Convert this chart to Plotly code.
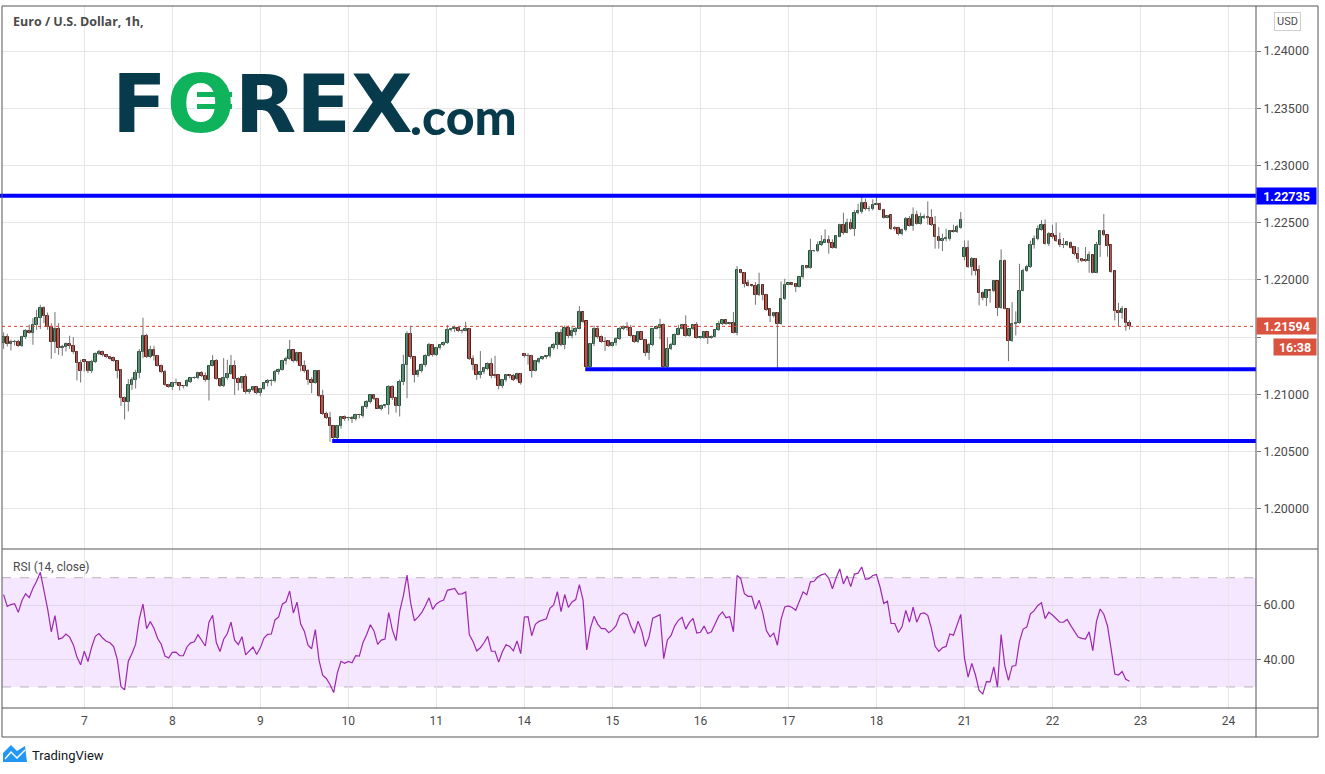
import numpy as np
import plotly.graph_objects as go

# ---------------- data (EUR/USD, 1h bars) ----------------
day_labels = ["7", "8", "9", "10", "11", "14", "15", "16", "17", "18", "21", "22", "23", "24"]
bars_per_day = 24
first_label_bar = 22   # hourly bars shown before the "7" label

open_ = [
    1.21448, 1.21500, 1.21442, 1.21453, 1.21456, 1.21418, 1.21500, 1.21552, 1.21535, 1.21608, 1.21666, 1.21754,
    1.21687, 1.21587, 1.21453, 1.21570, 1.21404, 1.21413, 1.21439, 1.21424, 1.21372, 1.21273, 1.21299, 1.21284,
    1.21200, 1.21284, 1.21351, 1.21372, 1.21343, 1.21328, 1.21316, 1.21290, 1.21214, 1.20966, 1.20929, 1.21080,
    1.21127, 1.21185, 1.21372, 1.21512, 1.21322, 1.21389, 1.21334, 1.21246, 1.21197, 1.21080, 1.21060, 1.21098,
    1.21098, 1.21074, 1.21069, 1.21112, 1.21141, 1.21141, 1.21185, 1.21162, 1.21121, 1.21246, 1.21293, 1.21133,
    1.21069, 1.21141, 1.21176, 1.21249, 1.21133, 1.21103, 1.21150, 1.21019, 1.21034, 1.21063, 1.21010, 1.21045,
    1.21098, 1.21118, 1.21118, 1.21197, 1.21214, 1.21293, 1.21308, 1.21383, 1.21287, 1.21360, 1.21249, 1.21208,
    1.21127, 1.21098, 1.21206, 1.20981, 1.20826, 1.20792, 1.20727, 1.20614, 1.20719, 1.20800, 1.20789, 1.20792,
    1.20780, 1.20818, 1.20812, 1.20888, 1.20934, 1.20993, 1.20958, 1.20876, 1.20894, 1.20905, 1.21063, 1.20964,
    1.20894, 1.21106, 1.21255, 1.21529, 1.21322, 1.21165, 1.21203, 1.21255, 1.21337, 1.21433, 1.21343, 1.21404,
    1.21430, 1.21448, 1.21561, 1.21570, 1.21579, 1.21555, 1.21555, 1.21570, 1.21308, 1.21255, 1.21173, 1.21194,
    1.21220, 1.21267, 1.21168, 1.21168, 1.21069, 1.21121, 1.21165, 1.21156, 1.21133, 1.21179, 1.21351, 1.21331,
    1.21337, 1.21208, 1.21284, 1.21313, 1.21322, 1.21331, 1.21401, 1.21430, 1.21535, 1.21433, 1.21579, 1.21506,
    1.21544, 1.21573, 1.21716, 1.21637, 1.21238, 1.21442, 1.21573, 1.21500, 1.21460, 1.21462, 1.21421, 1.21445,
    1.21480, 1.21567, 1.21590, 1.21584, 1.21509, 1.21456, 1.21544, 1.21479, 1.21360, 1.21427, 1.21573, 1.21579,
    1.21602, 1.21238, 1.21392, 1.21433, 1.21520, 1.21573, 1.21602, 1.21509, 1.21567, 1.21602, 1.21494, 1.21491,
    1.21544, 1.21491, 1.21500, 1.21558, 1.21614, 1.21646, 1.21614, 1.21620, 1.21538, 1.22083, 1.22063, 1.21969,
    1.21952, 1.21946, 1.21864, 1.21952, 1.21870, 1.21742, 1.21684, 1.21713, 1.21614, 1.21829, 1.21958, 1.21969,
    1.21964, 1.21940, 1.22022, 1.22121, 1.22104, 1.22249, 1.22255, 1.22308, 1.22325, 1.22345, 1.22325, 1.22278,
    1.22378, 1.22483, 1.22413, 1.22500, 1.22448, 1.22587, 1.22593, 1.22675, 1.22622, 1.22620, 1.22657, 1.22666,
    1.22614, 1.22544, 1.22564, 1.22453, 1.22453, 1.22401, 1.22433, 1.22529, 1.22471, 1.22570, 1.22491, 1.22544,
    1.22552, 1.22544, 1.22483, 1.22375, 1.22343, 1.22354, 1.22360, 1.22424, 1.22418, 1.22453, 1.22200, 1.22278,
    1.22112, 1.22185, 1.22083, 1.21888, 1.21841, 1.21908, 1.21905, 1.21987, 1.21754, 1.22168, 1.21748, 1.21465,
    1.21617, 1.21625, 1.21905, 1.22080, 1.22109, 1.22302, 1.22360, 1.22436, 1.22483, 1.22313, 1.22404, 1.22383,
    1.22345, 1.22308, 1.22308, 1.22325, 1.22284, 1.22229, 1.22179, 1.22171, 1.22162, 1.22214, 1.22063, 1.22302,
    1.22430, 1.22389, 1.22302, 1.22074, 1.21730, 1.21713, 1.21742, 1.21625,
]
high = [
    1.21541, 1.21529, 1.21477, 1.21477, 1.21477, 1.21512, 1.21570, 1.21608, 1.21666, 1.21739, 1.21783, 1.21768,
    1.21716, 1.21622, 1.21719, 1.21622, 1.21433, 1.21453, 1.21512, 1.21500, 1.21375, 1.21302, 1.21305, 1.21290,
    1.21302, 1.21366, 1.21389, 1.21383, 1.21348, 1.21337, 1.21331, 1.21296, 1.21220, 1.20981, 1.21133, 1.21150,
    1.21214, 1.21395, 1.21669, 1.21529, 1.21424, 1.21424, 1.21343, 1.21261, 1.21214, 1.21092, 1.21109, 1.21138,
    1.21103, 1.21080, 1.21133, 1.21150, 1.21156, 1.21197, 1.21203, 1.21191, 1.21252, 1.21343, 1.21308, 1.21138,
    1.21316, 1.21302, 1.21343, 1.21296, 1.21150, 1.21156, 1.21179, 1.21051, 1.21069, 1.21074, 1.21057, 1.21103,
    1.21133, 1.21133, 1.21214, 1.21226, 1.21302, 1.21330, 1.21477, 1.21390, 1.21372, 1.21366, 1.21296, 1.21220,
    1.21150, 1.21214, 1.21214, 1.21039, 1.20850, 1.20847, 1.20730, 1.20730, 1.20805, 1.20815, 1.20805, 1.20810,
    1.20830, 1.20830, 1.20900, 1.20950, 1.21000, 1.21000, 1.20970, 1.20910, 1.20915, 1.21080, 1.21080, 1.20970,
    1.21130, 1.21345, 1.21550, 1.21599, 1.21330, 1.21220, 1.21270, 1.21350, 1.21450, 1.21440, 1.21415, 1.21440,
    1.21460, 1.21605, 1.21580, 1.21600, 1.21590, 1.21570, 1.21634, 1.21580, 1.21340, 1.21265, 1.21378, 1.21240,
    1.21280, 1.21315, 1.21337, 1.21175, 1.21135, 1.21175, 1.21175, 1.21180, 1.21190, 1.21185, 1.21360, 1.21360,
    1.21345, 1.21300, 1.21320, 1.21335, 1.21340, 1.21420, 1.21450, 1.21550, 1.21570, 1.21600, 1.21600, 1.21600,
    1.21587, 1.21771, 1.21719, 1.21640, 1.21450, 1.21602, 1.21596, 1.21515, 1.21500, 1.21474, 1.21456, 1.21500,
    1.21587, 1.21602, 1.21631, 1.21607, 1.21520, 1.21550, 1.21550, 1.21485, 1.21450, 1.21579, 1.21602, 1.21660,
    1.21620, 1.21497, 1.21450, 1.21532, 1.21608, 1.21608, 1.21690, 1.21573, 1.21608, 1.21631, 1.21506, 1.21550,
    1.21550, 1.21515, 1.21567, 1.21643, 1.21655, 1.21655, 1.21630, 1.21719, 1.22121, 1.22092, 1.22069, 1.22001,
    1.21955, 1.21981, 1.22063, 1.21958, 1.21879, 1.21748, 1.21719, 1.21719, 1.21987, 1.22010, 1.21975, 1.21975,
    1.21970, 1.22028, 1.22127, 1.22127, 1.22360, 1.22261, 1.22337, 1.22389, 1.22442, 1.22389, 1.22354, 1.22389,
    1.22491, 1.22587, 1.22535, 1.22535, 1.22611, 1.22666, 1.22725, 1.22710, 1.22646, 1.22704, 1.22735, 1.22675,
    1.22622, 1.22567, 1.22570, 1.22470, 1.22465, 1.22448, 1.22550, 1.22558, 1.22634, 1.22605, 1.22587, 1.22573,
    1.22687, 1.22617, 1.22558, 1.22462, 1.22404, 1.22448, 1.22430, 1.22483, 1.22483, 1.22593, 1.22345, 1.22345,
    1.22200, 1.22191, 1.22127, 1.21900, 1.21917, 1.21917, 1.21993, 1.21990, 1.22267, 1.22179, 1.21754, 1.21806,
    1.21725, 1.22141, 1.22098, 1.22133, 1.22343, 1.22389, 1.22477, 1.22523, 1.22529, 1.22418, 1.22483, 1.22500,
    1.22413, 1.22366, 1.22337, 1.22337, 1.22296, 1.22287, 1.22191, 1.22287, 1.22249, 1.22220, 1.22331, 1.22436,
    1.22576, 1.22395, 1.22308, 1.22080, 1.21800, 1.21771, 1.21748, 1.21646,
]
low = [
    1.21398, 1.21418, 1.21383, 1.21427, 1.21413, 1.21413, 1.21483, 1.21529, 1.21433, 1.21564, 1.21570, 1.21622,
    1.21564, 1.21310, 1.21360, 1.21345, 1.21337, 1.21375, 1.21395, 1.21354, 1.21121, 1.21103, 1.21200, 1.21185,
    1.21185, 1.21273, 1.21343, 1.21331, 1.21316, 1.21302, 1.21284, 1.21138, 1.20899, 1.20780, 1.20850, 1.21039,
    1.21051, 1.21141, 1.21316, 1.21316, 1.21315, 1.21296, 1.21243, 1.21185, 1.21074, 1.21057, 1.21039, 1.21083,
    1.21034, 1.21051, 1.21063, 1.21098, 1.21133, 1.21133, 1.21150, 1.21109, 1.20946, 1.21243, 1.21127, 1.21063,
    1.21063, 1.21127, 1.21171, 1.20996, 1.21034, 1.21051, 1.21004, 1.21004, 1.21025, 1.20999, 1.20987, 1.21039,
    1.21069, 1.21074, 1.21103, 1.21173, 1.21208, 1.21260, 1.21300, 1.21278, 1.21278, 1.21200, 1.21191, 1.21083,
    1.21010, 1.21092, 1.20975, 1.20820, 1.20783, 1.20585, 1.20595, 1.20600, 1.20700, 1.20768, 1.20770, 1.20750,
    1.20770, 1.20790, 1.20795, 1.20875, 1.20920, 1.20950, 1.20870, 1.20860, 1.20880, 1.20824, 1.20950, 1.20840,
    1.20806, 1.21080, 1.20966, 1.21310, 1.21103, 1.21150, 1.21190, 1.21240, 1.21330, 1.21330, 1.21335, 1.21390,
    1.21420, 1.21440, 1.21550, 1.21545, 1.21545, 1.21535, 1.21550, 1.21300, 1.21210, 1.21127, 1.21140, 1.21180,
    1.21210, 1.21140, 1.21140, 1.21044, 1.21055, 1.21110, 1.21140, 1.21115, 1.21120, 1.21085, 1.21320, 1.21260,
    1.21147, 1.21200, 1.21270, 1.21300, 1.21310, 1.21320, 1.21390, 1.21395, 1.21420, 1.21395, 1.21490, 1.21490,
    1.21515, 1.21567, 1.21625, 1.21224, 1.21224, 1.21422, 1.21485, 1.21450, 1.21378, 1.21413, 1.21416, 1.21427,
    1.21474, 1.21561, 1.21558, 1.21503, 1.21450, 1.21450, 1.21474, 1.21334, 1.21301, 1.21421, 1.21567, 1.21480,
    1.21224, 1.21224, 1.21386, 1.21427, 1.21515, 1.21567, 1.21503, 1.21503, 1.21561, 1.21485, 1.21485, 1.21485,
    1.21439, 1.21485, 1.21497, 1.21552, 1.21605, 1.21608, 1.21608, 1.21532, 1.21515, 1.22057, 1.21934, 1.21943,
    1.21940, 1.21783, 1.21858, 1.21821, 1.21730, 1.21631, 1.21672, 1.21224, 1.21608, 1.21824, 1.21952, 1.21952,
    1.21894, 1.21934, 1.22010, 1.22098, 1.22098, 1.22243, 1.22243, 1.22296, 1.22322, 1.22229, 1.22273, 1.22273,
    1.22372, 1.22395, 1.22407, 1.22436, 1.22383, 1.22573, 1.22579, 1.22608, 1.22600, 1.22608, 1.22652, 1.22608,
    1.22535, 1.22538, 1.22436, 1.22430, 1.22389, 1.22389, 1.22424, 1.22465, 1.22430, 1.22483, 1.22483, 1.22532,
    1.22483, 1.22471, 1.22273, 1.22273, 1.22252, 1.22337, 1.22343, 1.22413, 1.22410, 1.22448, 1.22171, 1.22104,
    1.22039, 1.22039, 1.21777, 1.21821, 1.21771, 1.21800, 1.21894, 1.21684, 1.21748, 1.21742, 1.21290, 1.21459,
    1.21515, 1.21617, 1.21900, 1.22069, 1.22104, 1.22273, 1.22345, 1.22430, 1.22308, 1.22296, 1.22360, 1.22331,
    1.22287, 1.22278, 1.22296, 1.22273, 1.22214, 1.22150, 1.22156, 1.22156, 1.22063, 1.22057, 1.22057, 1.22200,
    1.22383, 1.22203, 1.22063, 1.21646, 1.21596, 1.21660, 1.21555, 1.21567,
]
close = [
    1.21500, 1.21439, 1.21453, 1.21459, 1.21418, 1.21500, 1.21552, 1.21535, 1.21608, 1.21666, 1.21754, 1.21681,
    1.21587, 1.21453, 1.21570, 1.21404, 1.21413, 1.21439, 1.21418, 1.21366, 1.21273, 1.21208, 1.21284, 1.21200,
    1.21284, 1.21354, 1.21372, 1.21343, 1.21322, 1.21313, 1.21290, 1.21208, 1.20966, 1.20929, 1.21080, 1.21127,
    1.21185, 1.21372, 1.21512, 1.21322, 1.21389, 1.21334, 1.21246, 1.21191, 1.21080, 1.21060, 1.21098, 1.21100,
    1.21069, 1.21069, 1.21118, 1.21141, 1.21147, 1.21185, 1.21156, 1.21121, 1.21249, 1.21293, 1.21133, 1.21069,
    1.21141, 1.21176, 1.21249, 1.21133, 1.21103, 1.21150, 1.21019, 1.21039, 1.21063, 1.21010, 1.21045, 1.21098,
    1.21118, 1.21120, 1.21197, 1.21214, 1.21293, 1.21308, 1.21383, 1.21287, 1.21360, 1.21249, 1.21208, 1.21121,
    1.21098, 1.21206, 1.20981, 1.20826, 1.20789, 1.20719, 1.20614, 1.20727, 1.20800, 1.20780, 1.20791, 1.20780,
    1.20818, 1.20815, 1.20888, 1.20934, 1.20993, 1.20958, 1.20876, 1.20899, 1.20905, 1.21063, 1.20964, 1.20894,
    1.21106, 1.21255, 1.21529, 1.21322, 1.21165, 1.21206, 1.21255, 1.21337, 1.21433, 1.21343, 1.21404, 1.21433,
    1.21450, 1.21561, 1.21570, 1.21582, 1.21550, 1.21553, 1.21570, 1.21305, 1.21252, 1.21173, 1.21194, 1.21226,
    1.21267, 1.21156, 1.21156, 1.21069, 1.21127, 1.21168, 1.21156, 1.21127, 1.21179, 1.21095, 1.21331, 1.21334,
    1.21208, 1.21290, 1.21313, 1.21325, 1.21331, 1.21407, 1.21430, 1.21535, 1.21433, 1.21579, 1.21506, 1.21552,
    1.21573, 1.21716, 1.21631, 1.21238, 1.21442, 1.21573, 1.21500, 1.21456, 1.21456, 1.21421, 1.21445, 1.21480,
    1.21567, 1.21590, 1.21579, 1.21509, 1.21456, 1.21544, 1.21479, 1.21360, 1.21427, 1.21573, 1.21585, 1.21602,
    1.21238, 1.21392, 1.21433, 1.21520, 1.21573, 1.21602, 1.21509, 1.21567, 1.21602, 1.21491, 1.21497, 1.21544,
    1.21491, 1.21503, 1.21558, 1.21614, 1.21646, 1.21614, 1.21620, 1.21538, 1.22083, 1.22063, 1.21964, 1.21946,
    1.21946, 1.21864, 1.21952, 1.21870, 1.21736, 1.21684, 1.21713, 1.21614, 1.21829, 1.21958, 1.21969, 1.21958,
    1.21940, 1.22022, 1.22121, 1.22104, 1.22249, 1.22255, 1.22308, 1.22331, 1.22345, 1.22325, 1.22278, 1.22383,
    1.22483, 1.22413, 1.22500, 1.22448, 1.22587, 1.22599, 1.22675, 1.22617, 1.22624, 1.22657, 1.22666, 1.22614,
    1.22541, 1.22558, 1.22448, 1.22448, 1.22401, 1.22433, 1.22529, 1.22471, 1.22570, 1.22491, 1.22547, 1.22552,
    1.22541, 1.22477, 1.22375, 1.22343, 1.22360, 1.22366, 1.22424, 1.22418, 1.22462, 1.22520, 1.22278, 1.22112,
    1.22185, 1.22074, 1.21888, 1.21841, 1.21908, 1.21905, 1.21987, 1.21754, 1.22168, 1.21748, 1.21465, 1.21617,
    1.21625, 1.21905, 1.22080, 1.22109, 1.22308, 1.22360, 1.22442, 1.22483, 1.22313, 1.22404, 1.22375, 1.22343,
    1.22302, 1.22302, 1.22331, 1.22278, 1.22229, 1.22179, 1.22168, 1.22162, 1.22214, 1.22063, 1.22302, 1.22430,
    1.22389, 1.22296, 1.22069, 1.21730, 1.21713, 1.21742, 1.21625, 1.21594,
]

# drawn horizontal levels (price, first bar; None = from the left edge)
level_prices = [1.22735, 1.21220, 1.20593]
level_start_bar = [None, 159, 90]
countdown_text = "16:38"
rsi_period = 14
rsi_first_value = 63.8   # RSI shown at the first visible bar (its history lies off-screen)

# ---------------- derived ----------------
n = len(close)
idx = np.arange(n)
o = np.array(open_); h = np.array(high); l = np.array(low); c = np.array(close)
up = c >= o

# Wilder RSI(14, close), seeded with the value shown at the first bar
d = np.diff(c)
gain = np.where(d > 0, d, 0.0)
loss = np.where(d < 0, -d, 0.0)
mean_abs = np.abs(d[:rsi_period]).mean()
ag = mean_abs * rsi_first_value / 100.0
al = mean_abs * (1 - rsi_first_value / 100.0)
rsi = [rsi_first_value]
for j in range(n - 1):
    ag = (ag * (rsi_period - 1) + gain[j]) / rsi_period
    al = (al * (rsi_period - 1) + loss[j]) / rsi_period
    rsi.append(100 - 100 / (1 + ag / al) if al > 0 else 100.0)

# ---------------- geometry helpers (pixel -> paper) ----------------
W, H = 1325, 774
ML, MR, MT, MB = 2, 69, 6, 66
PW, PH = W - ML - MR, H - MT - MB
def px(xp): return (xp - ML) / PW
def py(yp): return (H - MB - yp) / PH
split = py(549)

UP_FILL, UP_LINE = "#4aa072", "#1f4f33"
DN_FILL, DN_LINE = "#d9473a", "#5b1a13"
WICK = "#737375"
GRID = "#e6e6e6"
TXT = "#4a4a4a"
FONT = "Roboto"
LOGO = "#073b4c"
LOGO_GREEN = "#0fb35b"

fig = go.Figure()

# wicks
wx, wy = [], []
for i in range(n):
    wx += [i, i, None]; wy += [l[i], h[i], None]
fig.add_trace(go.Scatter(x=wx, y=wy, mode="lines", line=dict(color=WICK, width=1),
                         hoverinfo="skip", showlegend=False, xaxis="x", yaxis="y"))
# bodies
base = np.minimum(o, c)
hgt = np.maximum(np.abs(c - o), 0.00002)
fig.add_trace(go.Bar(x=idx, y=hgt, base=base, width=0.68,
                     marker=dict(color=[UP_FILL if u else DN_FILL for u in up],
                                 line=dict(color=[UP_LINE if u else DN_LINE for u in up], width=1)),
                     showlegend=False, xaxis="x", yaxis="y"))
# RSI
fig.add_trace(go.Scatter(x=idx, y=rsi, mode="lines", line=dict(color="#9c27b0", width=1.2),
                         showlegend=False, xaxis="x", yaxis="y2"))

shapes = []
shapes.append(dict(type="rect", xref="paper", yref="y2", x0=0, x1=1, y0=30, y1=70,
                   fillcolor="rgba(153,21,255,0.10)", line=dict(width=0), layer="below"))
for lvl in (30, 70):
    shapes.append(dict(type="line", xref="paper", yref="y2", x0=0, x1=1, y0=lvl, y1=lvl,
                       line=dict(color="#b8b0bf", width=1, dash="dash"), layer="below"))
shapes.append(dict(type="line", xref="paper", yref="y", x0=0, x1=1, y0=close[-1], y1=close[-1],
                   line=dict(color="#e0452f", width=1, dash="dot")))
for lp, sb in zip(level_prices, level_start_bar):
    if sb is None:
        shapes.append(dict(type="line", xref="paper", yref="y", x0=-0.002, x1=1, y0=lp, y1=lp,
                           line=dict(color="#0000ff", width=4)))
    else:
        shapes.append(dict(type="line", xref="x", yref="y", x0=sb - 0.4, x1=341.6, y0=lp, y1=lp,
                           line=dict(color="#0000ff", width=4)))
FR = "#555555"
for (x0, y0, x1, y1) in [(2, 6, 2, 737), (2, 6, 1318, 6), (1318, 6, 1318, 737), (2, 737, 1318, 737),
                         (1256, 6, 1256, 737), (2, 549, 1318, 549), (2, 708, 1318, 708)]:
    shapes.append(dict(type="line", xref="paper", yref="paper", x0=px(x0), x1=px(x1), y0=py(y0), y1=py(y1),
                       line=dict(color=FR, width=1)))
# euro bars across the logo "O"
for (ya, yb) in [(91, 98), (103, 110)]:
    shapes.append(dict(type="rect", xref="paper", yref="paper", x0=px(196), x1=px(233), y0=py(yb), y1=py(ya),
                       fillcolor=LOGO_GREEN, line=dict(color="white", width=2), layer="above"))
# TradingView icon
tv_path = "M {} {} L {} {} L {} {} L {} {} L {} {} L {} {} Z".format(
    px(3), py(762), px(3), py(753), px(11), py(745), px(17), py(751), px(25), py(746), px(27), py(762))
shapes.append(dict(type="path", xref="paper", yref="paper", path=tv_path,
                   fillcolor="#2196f3", line=dict(width=0)))
shapes.append(dict(type="path", xref="paper", yref="paper",
                   path="M {} {} L {} {} L {} {} L {} {}".format(px(5), py(759), px(11), py(752), px(17), py(758), px(25), py(750)),
                   line=dict(color="white", width=1.5)))

ann = []
ann.append(dict(xref="paper", yref="paper", x=px(11), y=py(22), xanchor="left", yanchor="middle",
                text="<b>Euro / U.S. Dollar, 1h,</b>", showarrow=False,
                font=dict(family="Open Sans", size=12.5, color=TXT)))
ann.append(dict(xref="paper", yref="paper", x=px(11), y=py(567), xanchor="left", yanchor="middle",
                text="RSI (14, close)", showarrow=False, font=dict(family=FONT, size=12, color=TXT)))
ann.append(dict(xref="paper", yref="paper", x=px(110), y=py(104), xanchor="left", yanchor="middle",
                text="F<span style='color:%s'>O</span>REX" % LOGO_GREEN, showarrow=False,
                font=dict(family="DejaVu Sans", size=80, color=LOGO, weight="bold")))
ann.append(dict(xref="paper", yref="paper", x=px(408), y=py(116), xanchor="left", yanchor="middle",
                text=".com", showarrow=False,
                font=dict(family="Lato", size=50, color=LOGO, weight=900)))
ann.append(dict(xref="paper", yref="paper", x=px(1287), y=py(22), xanchor="center", yanchor="middle",
                text="USD", showarrow=False, font=dict(family=FONT, size=11, color=TXT),
                bordercolor="#cfcfcf", borderwidth=1, borderpad=2, bgcolor="white"))
ann.append(dict(xref="paper", yref="y", x=px(1256), y=level_prices[0], xanchor="left", yanchor="middle",
                text="<b>{:.5f}</b>".format(level_prices[0]), showarrow=False, width=57, height=14,
                font=dict(family=FONT, size=12.5, color="white"), bgcolor="#0000ff", borderpad=1))
ann.append(dict(xref="paper", yref="y", x=px(1256), y=close[-1], xanchor="left", yanchor="middle",
                text="<b>{:.5f}</b>".format(close[-1]), showarrow=False, width=57, height=14,
                font=dict(family=FONT, size=12.5, color="white"), bgcolor="#d9533f", borderpad=1))
ann.append(dict(xref="paper", yref="paper", x=px(1317), y=py(347), xanchor="right", yanchor="middle",
                text="<b>{}</b>".format(countdown_text), showarrow=False, width=40, height=14,
                font=dict(family=FONT, size=12.5, color="white"), bgcolor="#d9533f", borderpad=1))
ann.append(dict(xref="paper", yref="paper", x=px(30), y=py(755), xanchor="left", yanchor="middle",
                text="TradingView", showarrow=False, font=dict(family=FONT, size=13, color="#131722")))

price_ticks = [1.200, 1.205, 1.210, 1.215, 1.220, 1.225, 1.230, 1.235, 1.240]
# the 1.21500 label sits behind the last-price and countdown boxes, as on the reference
price_ticktext = ["" if abs(v - 1.215) < 1e-9 else "{:.5f}".format(v) for v in price_ticks]
tickvals = [first_label_bar + k * bars_per_day for k in range(len(day_labels))]

fig.update_layout(
    width=W, height=H, margin=dict(l=ML, r=MR, t=MT, b=MB),
    paper_bgcolor="white", plot_bgcolor="white", showlegend=False, bargap=0,
    font=dict(family=FONT, color=TXT),
    xaxis=dict(range=[-0.44, 341.5], tickvals=tickvals, ticktext=day_labels, showgrid=True,
               gridcolor=GRID, zeroline=False, ticks="", anchor="y2", fixedrange=True,
               tickfont=dict(size=12, color=TXT), showline=False, ticklabelstandoff=4),
    yaxis=dict(domain=[split, 1], range=[1.19648, 1.24394], side="right", tickvals=price_ticks,
               ticktext=price_ticktext, ticks="outside", ticklen=4, tickcolor="#777", gridcolor=GRID,
               zeroline=False, anchor="x", tickfont=dict(size=12.5, color=TXT), showline=False),
    yaxis2=dict(domain=[0, split], range=[22.3, 80.5], side="right", tickvals=[40, 60],
                ticktext=["40.00", "60.00"], ticks="outside", ticklen=4, tickcolor="#777",
                gridcolor="#e2d6ea", zeroline=False, anchor="x", tickfont=dict(size=12.5, color=TXT)),
    shapes=shapes, annotations=ann,
)

fig.write_html("out.html", config={"displayModeBar": False},
               post_script="document.body.style.margin='0';document.body.style.overflow='hidden';")
